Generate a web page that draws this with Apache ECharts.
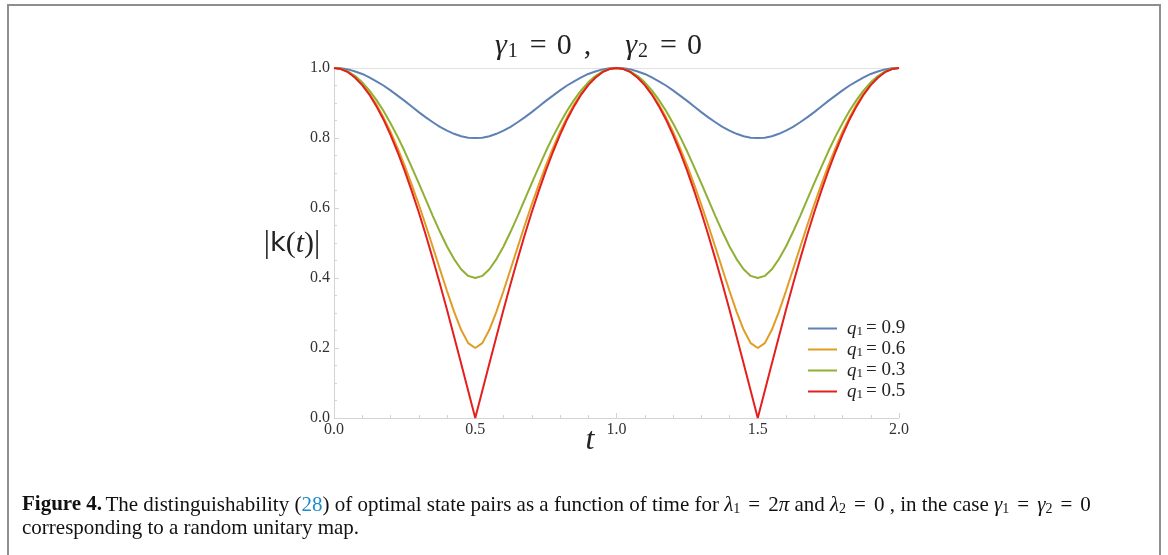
<!DOCTYPE html>
<html>
<head>
<meta charset="utf-8">
<script src="https://cdn.jsdelivr.net/npm/echarts@6/dist/echarts.min.js"></script>
<style>
  html, body { margin: 0; padding: 0; background: #fff; }
  #chart { width: 1168px; height: 555px; }
</style>
</head>
<body>
<div id="chart"></div>
<script>
// half a period, t from 0 to 0.5 (the curves are symmetric and repeat every 1.0)
const tHalf = [0, 0.025, 0.05, 0.075, 0.1, 0.125, 0.15, 0.175, 0.2, 0.225, 0.25,
  0.275, 0.3, 0.325, 0.35, 0.375, 0.4, 0.425, 0.45, 0.475, 0.5];

const kQ09 = [1, 0.999, 0.996, 0.990, 0.983, 0.973, 0.962, 0.950, 0.936, 0.921, 0.906,
  0.890, 0.874, 0.859, 0.845, 0.832, 0.821, 0.812, 0.805, 0.801, 0.800];
const kQ06 = [1, 0.997, 0.988, 0.973, 0.953, 0.927, 0.896, 0.859, 0.818, 0.771, 0.721,
  0.667, 0.610, 0.550, 0.488, 0.425, 0.363, 0.304, 0.252, 0.214, 0.200];
const kQ03 = [1, 0.997, 0.990, 0.977, 0.959, 0.936, 0.909, 0.878, 0.842, 0.804, 0.762,
  0.717, 0.671, 0.624, 0.577, 0.532, 0.490, 0.454, 0.425, 0.406, 0.400];
const kQ05 = [1, 0.997, 0.988, 0.972, 0.951, 0.924, 0.891, 0.853, 0.809, 0.760, 0.707,
  0.649, 0.588, 0.523, 0.454, 0.383, 0.309, 0.233, 0.156, 0.078, 0];

const seriesNames = ["0.9", "0.6", "0.3", "0.5"];
const seriesColors = ["#5e81b5", "#e19c24", "#8fb032", "#e51e1e"];
const yTicks = [0, 0.2, 0.4, 0.6, 0.8, 1.0];
const xTicks = [0, 0.5, 1.0, 1.5, 2.0];

// unfold the half period into two full periods
function unfold(half) {
  const pts = [];
  for (let p = 0; p < 2; p++) {
    for (let i = 0; i < tHalf.length; i++) pts.push([p + tHalf[i], half[i]]);
    for (let i = tHalf.length - 2; i > 0; i--) pts.push([p + 1 - tHalf[i], half[i]]);
  }
  pts.push([2, half[0]]);
  return pts;
}

const allData = [kQ09, kQ06, kQ03, kQ05];

const chart = echarts.init(document.getElementById("chart"));

const serif = "Liberation Serif";
const axisGray = "#d4d4d4";

const option = {
  animation: false,
  grid: { left: 334, right: 269, top: 68, bottom: 137 },
  xAxis: [
    {
      type: "value",
      min: 0,
      max: 2,
      interval: 0.5,
      axisLine: { lineStyle: { color: axisGray, width: 1 } },
      axisTick: { inside: true, length: 5, lineStyle: { color: axisGray } },
      minorTick: { show: true, splitNumber: 5, length: 3, lineStyle: { color: axisGray } },
      splitLine: { show: false },
      axisLabel: {
        margin: 4,
        fontFamily: serif,
        fontSize: 16,
        color: "#333",
        formatter: (v) => (xTicks.includes(v) ? v.toFixed(1) : ""),
      },
    },
    {
      type: "value",
      position: "top",
      min: 0,
      max: 2,
      axisLine: { show: true, lineStyle: { color: "#e2e2e2", width: 1 } },
      axisTick: { show: false },
      axisLabel: { show: false },
      splitLine: { show: false },
    },
  ],
  yAxis: {
    type: "value",
    min: 0,
    max: 1,
    interval: 0.2,
    axisLine: { show: true, lineStyle: { color: axisGray, width: 1 } },
    axisTick: { show: true, inside: true, length: 5, lineStyle: { color: axisGray } },
    minorTick: { show: true, splitNumber: 4, length: 3, lineStyle: { color: axisGray } },
    splitLine: { show: false },
    axisLabel: {
      margin: 4,
      fontFamily: serif,
      fontSize: 16,
      color: "#333",
      formatter: (v) => (yTicks.some((y) => Math.abs(y - v) < 1e-9) ? v.toFixed(1) : ""),
    },
  },
  legend: {
    orient: "vertical",
    left: 803,
    top: 313,
    itemGap: 0,
    itemWidth: 29,
    itemHeight: 2,
    icon: "rect",
    data: seriesNames.map((n) => "q1 = " + n),
    formatter: (name) => "{q|q}{s|1}{e|= " + name.slice(5) + "}",
    textStyle: {
      lineHeight: 21,
      rich: {
        q: { fontFamily: serif, fontStyle: "italic", fontSize: 19, color: "#222", padding: [0, 0, 0, 5], lineHeight: 21 },
        s: { fontFamily: serif, fontSize: 13, color: "#222", padding: [7, 3, 0, 0], lineHeight: 21 },
        e: { fontFamily: serif, fontSize: 19, color: "#222", lineHeight: 21 },
      },
    },
  },
  series: allData.map((half, i) => ({
    name: "q1 = " + seriesNames[i],
    type: "line",
    data: unfold(half),
    showSymbol: false,
    symbol: "none",
    clip: false,
    color: seriesColors[i],
    lineStyle: { width: 2, color: seriesColors[i] },
  })),
  graphic: [
    {
      type: "rect",
      shape: { x: 8, y: 5, width: 1152, height: 600 },
      style: { fill: "none", stroke: "#8e8e8e", lineWidth: 2 },
      silent: true,
    },
    {
      type: "text",
      x: 495,
      y: 46,
      style: {
        text: "{g|γ}{s|1}{e|=}{z|0}{c|,}{g2|γ}{s|2}{e|=}{n|0}",
        align: "left",
        verticalAlign: "middle",
        rich: {
          g: { fontFamily: serif, fontStyle: "italic", fontSize: 30, fill: "#222" },
          g2: { fontFamily: serif, fontStyle: "italic", fontSize: 30, fill: "#222", padding: [0, 0, 0, 34] },
          s: { fontFamily: serif, fontSize: 20, fill: "#222", padding: [11, 12, 0, 1] },
          e: { fontFamily: serif, fontSize: 30, fill: "#222", padding: [0, 10, 0, 0] },
          z: { fontFamily: serif, fontSize: 30, fill: "#222", padding: [0, 12, 0, 0] },
          c: { fontFamily: serif, fontSize: 30, fill: "#222" },
          n: { fontFamily: serif, fontSize: 30, fill: "#222" },
        },
      },
    },
    {
      type: "text",
      x: 292,
      y: 244,
      style: {
        text: "{b||}{k|k}{p|(}{t|t}{p|)}{b||}",
        align: "center",
        verticalAlign: "middle",
        rich: {
          b: { fontFamily: serif, fontSize: 31, fill: "#222" },
          k: { fontFamily: "DejaVu Sans", fontSize: 27, fill: "#222" },
          p: { fontFamily: serif, fontSize: 30, fill: "#222" },
          t: { fontFamily: serif, fontStyle: "italic", fontSize: 30, fill: "#222" },
        },
      },
    },
    {
      type: "text",
      x: 590,
      y: 441,
      style: {
        text: "t",
        align: "center",
        verticalAlign: "middle",
        fontFamily: serif,
        fontStyle: "italic",
        fontSize: 32,
        fill: "#222",
      },
    },
    {
      type: "text",
      x: 22,
      y: 505,
      style: {
        text: "{b|Figure 4.} {r|The distinguishability (}{c|28}{r|) of optimal state pairs as a function of time for }{i|λ}{s|1}{q|=}{r|2}{i|π}{r| and }{i|λ}{s|2}{q|=}{r|0 , in the case }{i|γ}{s|1}{q|=}{i|γ}{s|2}{q|=}{r|0}",
        verticalAlign: "middle",
        rich: {
          b: { fontFamily: serif, fontWeight: "bold", fontSize: 21, fill: "#111" },
          r: { fontFamily: serif, fontSize: 21, fill: "#111" },
          q: { fontFamily: serif, fontSize: 21, fill: "#111", padding: [0, 8, 0, 8] },
          c: { fontFamily: serif, fontSize: 21, fill: "#1c8ac8" },
          i: { fontFamily: serif, fontStyle: "italic", fontSize: 21, fill: "#111" },
          s: { fontFamily: serif, fontSize: 14, fill: "#111", padding: [8, 0, 0, 0] },
        },
      },
    },
    {
      type: "text",
      x: 22,
      y: 528,
      style: {
        text: "corresponding to a random unitary map.",
        verticalAlign: "middle",
        fontFamily: serif,
        fontSize: 21,
        fill: "#111",
      },
    },
  ],
};

chart.setOption(option);
</script>
</body>
</html>
